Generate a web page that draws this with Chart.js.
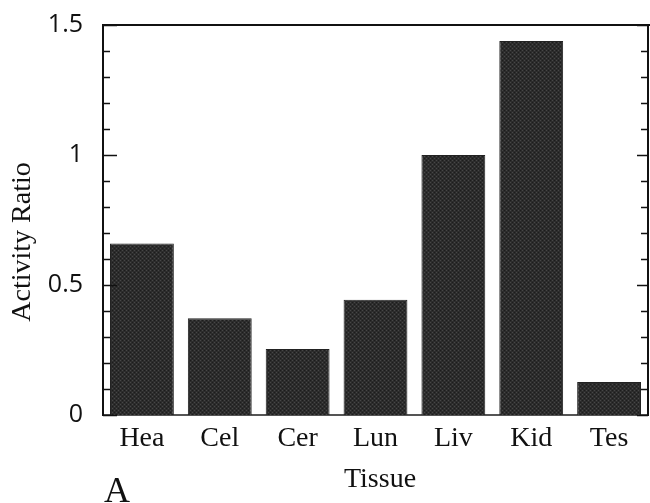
<!DOCTYPE html>
<html>
<head>
<meta charset="utf-8">
<script src="https://cdn.jsdelivr.net/npm/chart.js@4.4.1/dist/chart.umd.min.js"></script>
<style>
  html, body { margin: 0; padding: 0; background: #fff; }
  canvas { display: block; }
</style>
</head>
<body>
<canvas id="chart" width="650" height="503"></canvas>
<script>
// values
const tissues = ['Hea', 'Cel', 'Cer', 'Lun', 'Liv', 'Kid', 'Tes'];
const activityRatio = [0.66, 0.372, 0.254, 0.443, 1.0, 1.438, 0.127];
const yMin = 0;
const yMax = 1.5;
const yMajorStep = 0.5;
const yMinorStep = 0.1;

// dithered dark fill like the scanned bars
function barPattern() {
  const c = document.createElement('canvas');
  c.width = 4;
  c.height = 4;
  const g = c.getContext('2d');
  g.fillStyle = '#2c2c2c';
  g.fillRect(0, 0, 4, 4);
  g.fillStyle = '#474747';
  g.fillRect(0, 0, 1, 1);
  g.fillRect(2, 2, 1, 1);
  g.fillStyle = '#1c1c1c';
  g.fillRect(2, 0, 1, 1);
  g.fillRect(0, 2, 1, 1);
  return g.createPattern(c, 'repeat');
}

// inward ticks on both y axes, top frame line and free text
const decorations = {
  id: 'decorations',
  afterDraw(chart) {
    const { ctx, chartArea } = chart;
    const y = chart.scales.y;
    ctx.save();
    ctx.strokeStyle = '#111';
    ctx.lineWidth = 1.5;
    const n = Math.round((yMax - yMin) / yMinorStep);
    for (let i = 0; i <= n; i++) {
      const v = yMin + i * yMinorStep;
      const py = Math.round(y.getPixelForValue(v)) + 0.5;
      const major = i % Math.round(yMajorStep / yMinorStep) === 0;
      ctx.beginPath();
      ctx.moveTo(chartArea.left, py);
      ctx.lineTo(chartArea.left + (major ? 14 : 7), py);
      ctx.moveTo(chartArea.right, py);
      ctx.lineTo(chartArea.right - (major ? 11 : 7), py);
      ctx.stroke();
    }
    // top frame
    ctx.lineWidth = 2;
    ctx.beginPath();
    ctx.moveTo(chartArea.left - 1, chartArea.top);
    ctx.lineTo(chartArea.right + 2, chartArea.top);
    ctx.stroke();

    ctx.fillStyle = '#111';
    ctx.textAlign = 'center';
    ctx.textBaseline = 'middle';
    ctx.font = '28px "Liberation Serif", "Times New Roman", serif';
    ctx.fillText('Tissue', 380, 480);

    ctx.save();
    ctx.translate(23, 242);
    ctx.rotate(-Math.PI / 2);
    ctx.fillText('Activity Ratio', 0, 0);
    ctx.restore();

    ctx.textBaseline = 'alphabetic';
    ctx.font = '36px "Liberation Serif", "Times New Roman", serif';
    ctx.fillText('A', 117, 502);
    ctx.restore();
  }
};

// keep the plot box fixed: no extra room for the end tick labels
function noLabelPadding(scale) {
  scale.paddingTop = 0;
  scale.paddingBottom = 0;
}

new Chart(document.getElementById('chart'), {
  type: 'bar',
  data: {
    labels: tissues,
    datasets: [{
      data: activityRatio,
      backgroundColor: barPattern(),
      borderColor: '#222',
      borderWidth: 1,
      barPercentage: 0.82,
      categoryPercentage: 1.0
    }]
  },
  options: {
    responsive: false,
    animation: false,
    layout: { padding: { top: 25, left: 0, right: 0, bottom: 0 } },
    plugins: {
      legend: { display: false },
      tooltip: { enabled: false }
    },
    scales: {
      x: {
        type: 'category',
        offset: true,
        grid: { display: false, drawTicks: false },
        border: { display: true, color: '#555', width: 2 },
        ticks: {
          color: '#111',
          padding: 7,
          font: { family: '"Liberation Serif", "Times New Roman", serif', size: 28 }
        },
        afterFit(scale) { scale.height = 88; }
      },
      y: {
        position: 'left',
        min: yMin,
        max: yMax,
        grid: { display: false, drawTicks: false },
        border: { display: true, color: '#111', width: 2 },
        ticks: {
          stepSize: yMajorStep,
          color: '#111',
          padding: 20,
          font: { family: '"Open Sans", "DejaVu Sans", sans-serif', size: 25 },
          callback: v => String(v)
        },
        afterFit(scale) { scale.width = 103; noLabelPadding(scale); }
      },
      y2: {
        position: 'right',
        min: yMin,
        max: yMax,
        grid: { display: false, drawTicks: false },
        border: { display: true, color: '#111', width: 2 },
        ticks: { display: false },
        afterFit(scale) { scale.width = 2; noLabelPadding(scale); }
      }
    }
  },
  plugins: [decorations]
});
</script>
</body>
</html>
